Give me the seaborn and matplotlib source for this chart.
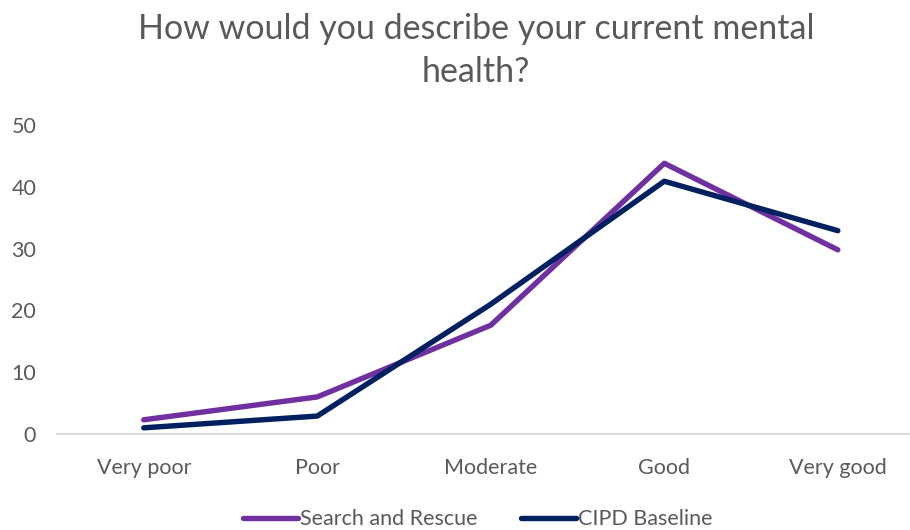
import matplotlib
matplotlib.use("Agg")
import matplotlib.pyplot as plt
import seaborn as sns
import pandas as pd
from matplotlib.lines import Line2D

categories = ["Very poor", "Poor", "Moderate", "Good", "Very good"]
search_rescue = [2.3, 6.0, 17.6, 43.8, 29.8]
cipd_baseline = [1.0, 2.9, 21.0, 40.9, 32.9]
series_names = ["Search and Rescue", "CIPD Baseline"]
colors = ["#7030A0", "#002060"]
y_ticks = [0, 10, 20, 30, 40, 50]

sns.set_theme(style="white")
plt.rcParams["font.family"] = ["Lato", "DejaVu Sans"]

df = pd.DataFrame({
    "x": list(range(len(categories))) * 2,
    "value": search_rescue + cipd_baseline,
    "series": [series_names[0]] * len(categories) + [series_names[1]] * len(categories),
})

fig = plt.figure(figsize=(9.1, 5.3), dpi=100)
ax = fig.add_axes([57 / 910, 1 - 434 / 530, 853 / 910, (434 - 125) / 530])

sns.lineplot(data=df, x="x", y="value", hue="series", palette=colors,
             linewidth=3.9, ax=ax, legend=False, solid_capstyle="round")

ax.set_xlim(-0.5, 4.416)
ax.set_ylim(0, 50)
ax.set_xticks(range(len(categories)))
ax.set_xticklabels(categories)
ax.set_yticks(y_ticks)
ax.set_xlabel("")
ax.set_ylabel("")
for s in ["top", "right", "left"]:
    ax.spines[s].set_visible(False)
ax.spines["bottom"].set_color("#d9d9d9")
ax.spines["bottom"].set_linewidth(1.5)
ax.tick_params(axis="both", length=0, labelsize=15.5, labelcolor="#595959")
ax.tick_params(axis="x", pad=17)
ax.tick_params(axis="y", pad=15)

fig.text(0.523, 0.904, "How would you describe your current mental\nhealth?",
         ha="center", va="center", fontsize=24.5, color="#595959", linespacing=1.42)

handles = [Line2D([], [], color=c, linewidth=3.9, solid_capstyle="round") for c in colors]
fig.legend(handles, series_names, loc="center", bbox_to_anchor=(0.525, 0.02),
           ncol=2, frameon=False, fontsize=15.5, labelcolor="#595959",
           handlelength=2.55, handletextpad=0.12, columnspacing=2.0)

fig.savefig("out.png", dpi=100)
